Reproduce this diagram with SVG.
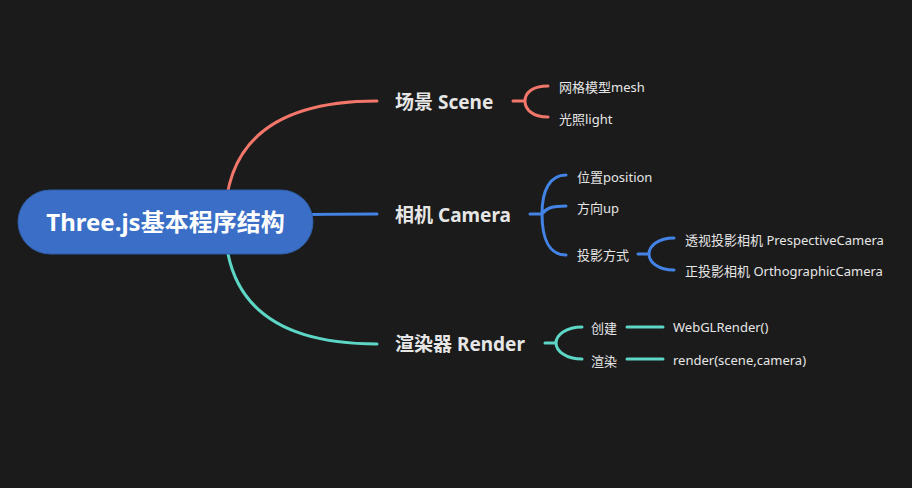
<svg xmlns="http://www.w3.org/2000/svg" width="912" height="488" viewBox="0 0 912 488">
<style>
.t{font-family:"Noto Sans","Noto Sans CJK SC",sans-serif;fill:#e6e6e6}
.m{font-size:19px;font-weight:bold}
.s{font-size:13px}
.c{fill:none;stroke-width:3;stroke-linecap:round}
.r{stroke:#f2776a}.b{stroke:#4383e6}.g{stroke:#5dd6c6}
</style>
<rect width="912" height="488" fill="#1b1b1b"/>
<g id="connectors">
<path class="c r" d="M225 222 Q225 101 377 101"/>
<path class="c b" d="M225 222 Q225 214 377 214"/>
<path class="c g" d="M225 222 Q225 344 377 344"/>
<path class="c r" d="M513 101 H525 M548 86 C532 86 525 93 525 101 C525 109 532 117 548 117"/>
<path class="c b" d="M530 214 H542 M566 175 C550 175 542 190 542 214 C542 240 550 255 566 255 M542 214 C546 208 552 206 566 206"/>
<path class="c b" d="M638 254 H649 M674 238 C658 238 649 246 649 254 C649 262 658 270 674 270"/>
<path class="c g" d="M545 343 H556 M582 327 C566 327 556 335 556 343 C556 351 566 359 582 359"/>
<path class="c g" d="M627 327 H663 M627 359 H663"/>
</g>
<g id="root">
<rect x="18" y="190" width="295" height="64" rx="32" fill="#3b6fc7" stroke="#2f5ea8" stroke-width="1"/>
<text x="165.5" y="231" text-anchor="middle" style="font-family:'Noto Sans','Noto Sans CJK SC',sans-serif;font-size:24px;font-weight:bold;fill:#ffffff">Three.js基本程序结构</text>
</g>
<g id="scene"><text class="t m" x="395" y="109">场景 Scene</text></g>
<g id="mesh"><text class="t s" x="559" y="92">网格模型mesh</text></g>
<g id="light"><text class="t s" x="559" y="124">光照light</text></g>
<g id="camera"><text class="t m" x="395" y="222">相机 Camera</text></g>
<g id="position"><text class="t s" x="577" y="182">位置position</text></g>
<g id="up"><text class="t s" x="577" y="213">方向up</text></g>
<g id="projection"><text class="t s" x="577" y="260">投影方式</text></g>
<g id="perspective"><text class="t s" x="685" y="245">透视投影相机 PrespectiveCamera</text></g>
<g id="ortho"><text class="t s" x="685" y="276">正投影相机 OrthographicCamera</text></g>
<g id="render"><text class="t m" x="395" y="351">渲染器 Render</text></g>
<g id="create"><text class="t s" x="591" y="333">创建</text></g>
<g id="draw"><text class="t s" x="591" y="366">渲染</text></g>
<g id="webgl"><text class="t s" x="673" y="332">WebGLRender()</text></g>
<g id="renderfn"><text class="t s" x="673" y="365">render(scene,camera)</text></g>
</svg>
